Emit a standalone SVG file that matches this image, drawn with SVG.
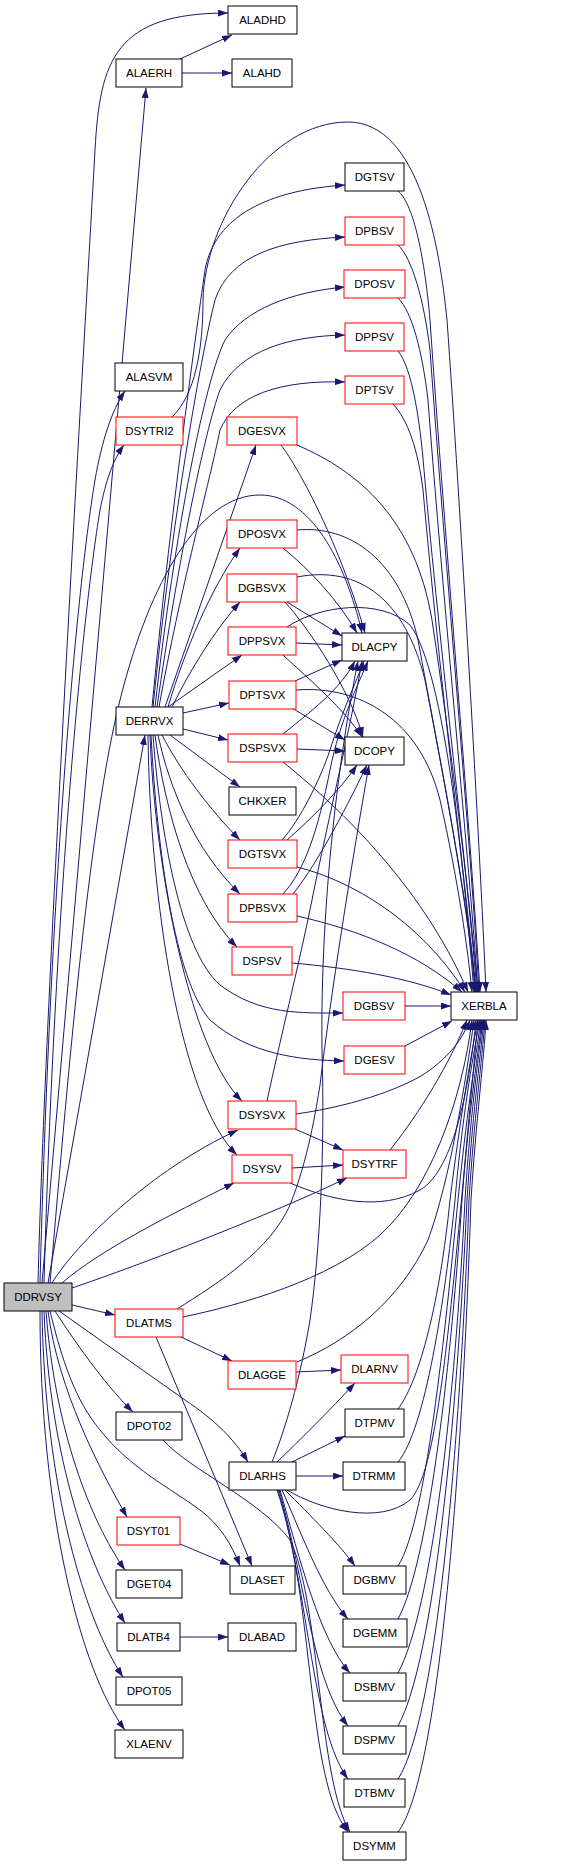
<svg xmlns="http://www.w3.org/2000/svg" width="584" height="1867" viewBox="0 0 584 1867">
<style>
.n rect{fill:#fff;stroke:#000;stroke-width:1}
.r rect{fill:#fff;stroke:#f00;stroke-width:1}
.root rect{fill:#bfbfbf;stroke:#000;stroke-width:1}
text{font-family:"Liberation Sans",Arial,sans-serif;font-size:11.5px;fill:#000;text-anchor:middle}
#edges path{fill:none;stroke:#191970;stroke-width:1;marker-end:url(#a)}
</style>
<defs>
<marker id="a" viewBox="0 0 10 7" refX="10" refY="3.5" markerWidth="10" markerHeight="7" markerUnits="userSpaceOnUse" orient="auto"><path d="M0,0 L10,3.5 L0,7 z" fill="#191970"/></marker>
</defs>
<rect width="584" height="1867" fill="#fff"/>
<g id="edges">
<path d="M38,1283 C45,1000 85,330 95,150 C100,60 115,13 228,13"/>
<path d="M42,1283 L146,88"/>
<path d="M40,1283 C50,900 75,600 95,480 C102,440 112,410 125,391"/>
<path d="M44,1283 C55,900 82,620 100,510 C106,480 113,460 124,445"/>
<path d="M48,1283 L145,735"/>
<path d="M50,1283 C70,1050 90,820 120,700 C150,580 200,495 260,495 C310,495 345,560 362,633"/>
<path d="M52,1283 C75,1245 150,1170 238,1130"/>
<path d="M62,1283 C100,1250 170,1215 234,1183"/>
<path d="M72,1288 C140,1265 270,1215 347,1178"/>
<path d="M72,1305 L115,1315"/>
<path d="M59,1311 L185,1400 C215,1420 235,1440 248,1462"/>
<path d="M55,1311 C80,1350 110,1390 133,1412"/>
<path d="M50,1311 C62,1360 75,1400 100,1430 C130,1468 170,1488 200,1510 C220,1525 232,1545 240,1566"/>
<path d="M48,1311 C58,1390 100,1470 127,1517"/>
<path d="M46,1311 C55,1430 90,1520 125,1570"/>
<path d="M44,1311 C50,1460 90,1570 125,1623"/>
<path d="M42,1311 C45,1490 85,1620 123,1677"/>
<path d="M40,1311 C40,1510 80,1670 125,1730"/>
<path d="M180,59 L232,35"/>
<path d="M182,73 L232,73"/>
<path d="M172,417 C195,395 203,350 203,300 C205,220 270,122 348,122 C420,122 440,250 447,320 C460,500 480,850 486,992"/>
<path d="M152,707 C170,520 195,340 205,270 C215,215 270,190 345,185"/>
<path d="M153,707 C172,520 200,360 215,300 C230,255 280,240 345,237"/>
<path d="M155,707 C175,530 205,380 225,340 C245,310 290,292 345,287"/>
<path d="M157,707 C178,560 205,430 220,390 C240,350 290,336 345,335"/>
<path d="M159,707 C180,590 210,480 220,430 C235,395 280,380 345,382"/>
<path d="M165,707 L256,445"/>
<path d="M168,707 C185,650 210,590 240,548"/>
<path d="M172,707 C190,670 215,630 240,602"/>
<path d="M168,707 L242,655"/>
<path d="M183,713 L229,703"/>
<path d="M183,729 L228,740"/>
<path d="M170,735 L240,787"/>
<path d="M162,735 C180,770 210,810 240,840"/>
<path d="M158,735 C170,790 195,850 240,894"/>
<path d="M155,735 C165,810 190,900 237,947"/>
<path d="M153,735 C160,830 180,950 220,985 C260,1015 300,1013 343,1013"/>
<path d="M151,735 C157,850 175,980 210,1020 C250,1055 300,1060 344,1061"/>
<path d="M150,735 C155,870 190,1050 242,1101"/>
<path d="M148,735 C150,900 180,1100 237,1155"/>
<path d="M398,191 C412,202 424,250 430,320 C445,540 472,850 480,992"/>
<path d="M398,245 C412,258 424,300 430,350 C445,560 472,860 479,992"/>
<path d="M398,298 C412,312 422,350 428,400 C443,600 470,870 478,992"/>
<path d="M398,351 C412,368 420,420 424,470 C440,650 468,880 477,992"/>
<path d="M393,404 C408,420 418,450 423,490 C440,680 466,890 476,992"/>
<path d="M281,445 C300,470 340,545 365,633"/>
<path d="M297,445 C360,472 415,520 432,620 C450,740 470,900 478,992"/>
<path d="M283,548 C310,570 338,600 357,633"/>
<path d="M297,530 C350,525 400,560 418,640 C440,760 468,900 476,992"/>
<path d="M287,602 L342,636"/>
<path d="M285,602 C310,630 350,690 363,737"/>
<path d="M297,577 C360,565 405,600 425,680 C448,800 470,920 475,992"/>
<path d="M296,643 L342,645"/>
<path d="M283,655 C310,680 345,710 362,737"/>
<path d="M287,627 C320,605 380,598 410,625 C445,670 465,880 474,992"/>
<path d="M295,681 L342,660"/>
<path d="M292,708 L345,740"/>
<path d="M296,690 C360,685 420,720 440,800 C458,880 468,950 472,992"/>
<path d="M283,734 C310,712 340,690 355,661"/>
<path d="M297,749 L345,751"/>
<path d="M283,762 C330,800 420,880 468,992"/>
<path d="M282,840 C300,820 320,780 330,750 C342,712 356,682 364,661"/>
<path d="M287,840 C310,820 340,790 357,765"/>
<path d="M297,867 C350,880 420,920 465,992"/>
<path d="M283,894 C305,870 318,830 330,770 C340,720 358,685 368,661"/>
<path d="M293,894 C320,860 350,800 367,765"/>
<path d="M297,916 C360,930 420,955 462,992"/>
<path d="M292,963 C350,968 410,978 451,995"/>
<path d="M405,1006 L451,1006"/>
<path d="M405,1046 L452,1021"/>
<path d="M267,1101 C280,1040 300,960 312,900 C328,820 352,720 362,661"/>
<path d="M295,1129 L343,1150"/>
<path d="M296,1114 C360,1105 410,1085 430,1070 C450,1055 462,1040 470,1020"/>
<path d="M292,1168 L343,1165"/>
<path d="M290,1183 C330,1200 380,1212 420,1190 C455,1170 470,1080 476,1020"/>
<path d="M390,1150 C410,1125 445,1075 467,1020"/>
<path d="M183,1317 C240,1305 330,1280 380,1235 C430,1190 462,1100 472,1020"/>
<path d="M177,1309 C220,1282 270,1250 290,1205 C308,1160 316,1110 320,1085 C330,1000 352,860 369,765"/>
<path d="M181,1337 L232,1361"/>
<path d="M156,1337 L252,1566"/>
<path d="M296,1372 L341,1370"/>
<path d="M297,1362 C350,1340 400,1300 428,1240 C450,1180 466,1080 474,1020"/>
<path d="M272,1462 C285,1430 300,1380 310,1320 C320,1250 325,1150 322,1050 C320,900 340,750 358,661"/>
<path d="M277,1462 C300,1440 330,1410 355,1383"/>
<path d="M292,1462 L345,1436"/>
<path d="M296,1476 L343,1476"/>
<path d="M287,1490 C320,1510 380,1525 410,1500 C440,1470 452,1300 478,1020"/>
<path d="M285,1490 C310,1515 340,1545 355,1566"/>
<path d="M282,1490 C300,1530 322,1590 348,1619"/>
<path d="M280,1490 C300,1560 320,1640 350,1673"/>
<path d="M279,1490 C305,1580 312,1680 348,1726"/>
<path d="M278,1490 C310,1600 312,1730 348,1779"/>
<path d="M277,1490 C315,1600 306,1780 348,1832"/>
<path d="M398,1409 C420,1380 440,1300 450,1200 C460,1120 470,1060 478,1020"/>
<path d="M398,1462 C425,1430 445,1300 455,1200 C462,1120 472,1060 480,1020"/>
<path d="M398,1566 C428,1520 448,1300 458,1200 C466,1120 475,1060 481,1020"/>
<path d="M398,1619 C430,1560 452,1350 462,1200 C468,1120 477,1060 482,1020"/>
<path d="M398,1673 C432,1610 455,1400 465,1200 C470,1120 478,1060 483,1020"/>
<path d="M398,1726 C434,1660 457,1420 467,1200 C472,1120 480,1060 484,1020"/>
<path d="M398,1779 C436,1720 460,1450 469,1200 C474,1120 482,1060 485,1020"/>
<path d="M398,1832 C438,1780 462,1480 471,1200 C476,1120 484,1060 486,1020"/>
<path d="M163,1440 C190,1470 260,1500 290,1540 C320,1600 318,1780 350,1832"/>
<path d="M180,1544 L230,1565"/>
<path d="M180,1637 L228,1637"/>
</g>
<g id="ALADHD" class="n"><rect x="228" y="6" width="69" height="28"/><text x="262.5" y="24">ALADHD</text></g>
<g id="ALAERH" class="n"><rect x="116" y="59" width="66" height="28"/><text x="149" y="77">ALAERH</text></g>
<g id="ALAHD" class="n"><rect x="232" y="59" width="60" height="28"/><text x="262" y="77">ALAHD</text></g>
<g id="DGTSV" class="n"><rect x="345" y="163" width="59" height="28"/><text x="374.5" y="181">DGTSV</text></g>
<g id="DPBSV" class="r"><rect x="345" y="217" width="59" height="28"/><text x="374.5" y="235">DPBSV</text></g>
<g id="DPOSV" class="r"><rect x="344" y="270" width="61" height="28"/><text x="374.5" y="288">DPOSV</text></g>
<g id="DPPSV" class="r"><rect x="345" y="323" width="59" height="28"/><text x="374.5" y="341">DPPSV</text></g>
<g id="ALASVM" class="n"><rect x="115" y="363" width="68" height="28"/><text x="149" y="381">ALASVM</text></g>
<g id="DPTSV" class="r"><rect x="345" y="376" width="59" height="28"/><text x="374.5" y="394">DPTSV</text></g>
<g id="DSYTRI2" class="r"><rect x="116" y="417" width="67" height="28"/><text x="149.5" y="435">DSYTRI2</text></g>
<g id="DGESVX" class="r"><rect x="227" y="417" width="70" height="28"/><text x="262" y="435">DGESVX</text></g>
<g id="DPOSVX" class="r"><rect x="227" y="520" width="70" height="28"/><text x="262" y="538">DPOSVX</text></g>
<g id="DGBSVX" class="r"><rect x="227" y="574" width="70" height="28"/><text x="262" y="592">DGBSVX</text></g>
<g id="DPPSVX" class="r"><rect x="228" y="627" width="68" height="28"/><text x="262" y="645">DPPSVX</text></g>
<g id="DLACPY" class="n"><rect x="342" y="633" width="65" height="28"/><text x="374.5" y="651">DLACPY</text></g>
<g id="DPTSVX" class="r"><rect x="229" y="681" width="67" height="28"/><text x="262.5" y="699">DPTSVX</text></g>
<g id="DERRVX" class="n"><rect x="116" y="707" width="67" height="28"/><text x="149.5" y="725">DERRVX</text></g>
<g id="DSPSVX" class="r"><rect x="228" y="734" width="69" height="28"/><text x="262.5" y="752">DSPSVX</text></g>
<g id="DCOPY" class="n"><rect x="345" y="737" width="59" height="28"/><text x="374.5" y="755">DCOPY</text></g>
<g id="CHKXER" class="n"><rect x="229" y="787" width="67" height="28"/><text x="262.5" y="805">CHKXER</text></g>
<g id="DGTSVX" class="r"><rect x="228" y="840" width="69" height="28"/><text x="262.5" y="858">DGTSVX</text></g>
<g id="DPBSVX" class="r"><rect x="228" y="894" width="69" height="28"/><text x="262.5" y="912">DPBSVX</text></g>
<g id="DSPSV" class="r"><rect x="232" y="947" width="60" height="28"/><text x="262" y="965">DSPSV</text></g>
<g id="DGBSV" class="r"><rect x="343" y="992" width="62" height="28"/><text x="374" y="1010">DGBSV</text></g>
<g id="XERBLA" class="n"><rect x="451" y="992" width="66" height="28"/><text x="484" y="1010">XERBLA</text></g>
<g id="DGESV" class="r"><rect x="344" y="1046" width="61" height="28"/><text x="374.5" y="1064">DGESV</text></g>
<g id="DSYSVX" class="r"><rect x="228" y="1101" width="68" height="28"/><text x="262" y="1119">DSYSVX</text></g>
<g id="DSYTRF" class="r"><rect x="343" y="1150" width="63" height="28"/><text x="374.5" y="1168">DSYTRF</text></g>
<g id="DSYSV" class="r"><rect x="232" y="1155" width="60" height="28"/><text x="262" y="1173">DSYSV</text></g>
<g id="DDRVSY" class="root"><rect x="4" y="1283" width="68" height="28"/><text x="38" y="1301">DDRVSY</text></g>
<g id="DLATMS" class="r"><rect x="115" y="1309" width="68" height="28"/><text x="149" y="1327">DLATMS</text></g>
<g id="DLARNV" class="r"><rect x="341" y="1355" width="67" height="28"/><text x="374.5" y="1373">DLARNV</text></g>
<g id="DLAGGE" class="r"><rect x="228" y="1361" width="68" height="28"/><text x="262" y="1379">DLAGGE</text></g>
<g id="DTPMV" class="n"><rect x="345" y="1409" width="59" height="28"/><text x="374.5" y="1427">DTPMV</text></g>
<g id="DPOT02" class="n"><rect x="116" y="1412" width="66" height="28"/><text x="149" y="1430">DPOT02</text></g>
<g id="DLARHS" class="n"><rect x="229" y="1462" width="67" height="28"/><text x="262.5" y="1480">DLARHS</text></g>
<g id="DTRMM" class="n"><rect x="343" y="1462" width="62" height="28"/><text x="374" y="1480">DTRMM</text></g>
<g id="DSYT01" class="r"><rect x="117" y="1517" width="63" height="28"/><text x="148.5" y="1535">DSYT01</text></g>
<g id="DLASET" class="n"><rect x="230" y="1566" width="65" height="28"/><text x="262.5" y="1584">DLASET</text></g>
<g id="DGBMV" class="n"><rect x="343" y="1566" width="63" height="28"/><text x="374.5" y="1584">DGBMV</text></g>
<g id="DGET04" class="n"><rect x="116" y="1570" width="66" height="28"/><text x="149" y="1588">DGET04</text></g>
<g id="DGEMM" class="n"><rect x="343" y="1619" width="64" height="28"/><text x="375" y="1637">DGEMM</text></g>
<g id="DLATB4" class="n"><rect x="117" y="1623" width="63" height="28"/><text x="148.5" y="1641">DLATB4</text></g>
<g id="DLABAD" class="n"><rect x="228" y="1623" width="68" height="28"/><text x="262" y="1641">DLABAD</text></g>
<g id="DSBMV" class="n"><rect x="343" y="1673" width="63" height="28"/><text x="374.5" y="1691">DSBMV</text></g>
<g id="DPOT05" class="n"><rect x="116" y="1677" width="66" height="28"/><text x="149" y="1695">DPOT05</text></g>
<g id="DSPMV" class="n"><rect x="343" y="1726" width="63" height="28"/><text x="374.5" y="1744">DSPMV</text></g>
<g id="XLAENV" class="n"><rect x="115" y="1730" width="68" height="28"/><text x="149" y="1748">XLAENV</text></g>
<g id="DTBMV" class="n"><rect x="344" y="1779" width="61" height="28"/><text x="374.5" y="1797">DTBMV</text></g>
<g id="DSYMM" class="n"><rect x="343" y="1832" width="63" height="28"/><text x="374.5" y="1850">DSYMM</text></g>
</svg>
